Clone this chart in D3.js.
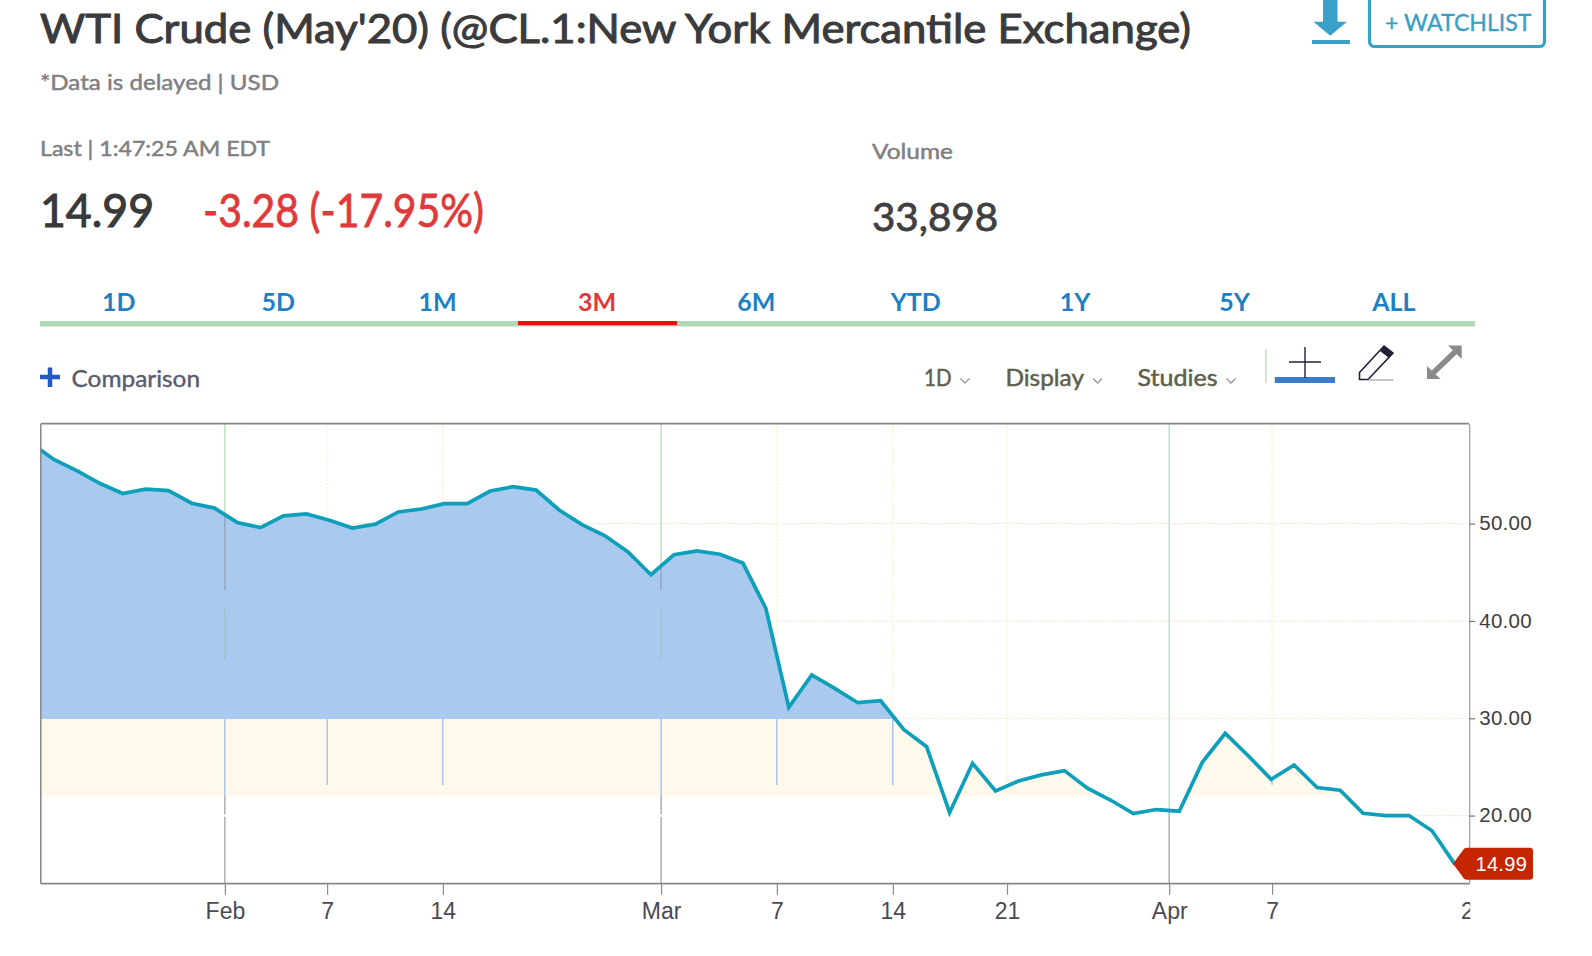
<!DOCTYPE html>
<html><head><meta charset="utf-8">
<script src="https://cdn.jsdelivr.net/npm/d3@7/dist/d3.min.js"></script>
<style>html,body{margin:0;padding:0;background:#fff;overflow:hidden}svg{display:block}</style>
</head><body><svg id="c" width="1592" height="956"></svg>
<script>
const sessions=["Jan 21","Jan 22","Jan 23","Jan 24","Jan 27","Jan 28","Jan 29","Jan 30","Jan 31","Feb 3","Feb 4","Feb 5","Feb 6","Feb 7","Feb 10","Feb 11","Feb 12","Feb 13","Feb 14","Feb 18","Feb 19","Feb 20","Feb 21","Feb 24","Feb 25","Feb 26","Feb 27","Feb 28","Mar 2","Mar 3","Mar 4","Mar 5","Mar 6","Mar 9","Mar 10","Mar 11","Mar 12","Mar 13","Mar 16","Mar 17","Mar 18","Mar 19","Mar 20","Mar 23","Mar 24","Mar 25","Mar 26","Mar 27","Mar 30","Mar 31","Apr 1","Apr 2","Apr 3","Apr 6","Apr 7","Apr 8","Apr 9","Apr 13","Apr 14","Apr 15","Apr 16","Apr 17","Apr 20"];
const prices=[58.3,56.6,55.45,54.15,53.1,53.55,53.4,52.1,51.6,50.1,49.6,50.8,51.0,50.35,49.55,49.95,51.2,51.5,52.05,52.05,53.35,53.8,53.45,51.4,49.9,48.75,47.1,44.75,46.8,47.2,46.85,45.95,41.3,31.13,34.45,33.07,31.6,31.8,28.85,27.08,20.3,25.37,22.53,23.56,24.18,24.62,22.81,21.6,20.2,20.62,20.45,25.47,28.45,26.15,23.73,25.2,22.88,22.6,20.24,20.0,20.0,18.44,14.99];
const xTickSlots=[8.45,12.9,17.94,27.44,32.48,37.53,42.5,49.56,54.04,62.8];
const xTickLabels=["Feb","7","14","Mar","7","14","21","Apr","7","21"];
const monthTickLabels=["Feb","Mar","Apr"];
const yTicks=[50,40,30,20];
const lastPrice=14.99;
const tabs=["1D","5D","1M","3M","6M","YTD","1Y","5Y","ALL"];
const activeTab="3M";
const chartTitle="WTI Crude (May'20) (@CL.1:New York Mercantile Exchange)";

const L=40.8,R=1469.2,T=423.7,B=883.7;
const x=d3.scaleLinear().domain([0,63]).range([30.8,1477.9]);
const y=d3.scaleLinear().domain([13,60.27]).range([B,T]);
const svg=d3.select("#c");
const font="Lato, 'Open Sans', sans-serif", chartFont="'Liberation Sans', Arial, sans-serif";
const defs=svg.append("defs");
defs.append("clipPath").attr("id","plot").append("rect").attr("x",L).attr("y",T).attr("width",R-L).attr("height",B-T);
const blueEnd=(y(29.95)-T)/(B-T), creamEnd=(y(22.05)-T)/(B-T);
const grad=defs.append("linearGradient").attr("id","mountain").attr("gradientUnits","userSpaceOnUse").attr("x1",0).attr("x2",0).attr("y1",T).attr("y2",B);
[[0,"#a9c9ee"],[blueEnd,"#a9c9ee"],[blueEnd,"#fff9eb"],[creamEnd,"#fff9eb"],[creamEnd,"#ffffff"],[1,"#ffffff"]]
 .forEach(s=>grad.append("stop").attr("offset",s[0]).attr("stop-color",s[1]));

function txt(s,px,py,size,weight,color,len,strokeW){
  const t=svg.append("text").attr("x",px).attr("y",py).text(s)
    .attr("font-family",font).attr("font-size",size).attr("font-weight",weight).attr("fill",color);
  if(len)t.attr("textLength",len).attr("lengthAdjust","spacingAndGlyphs");
  if(strokeW)t.attr("stroke",color).attr("stroke-width",strokeW);
  return t;
}
// Header
txt(chartTitle,40,43,40,400,"#3b3b3d",1151,1);
txt("*Data is delayed | USD",40,90,22,400,"#808084",239,0.5);
txt("Last | 1:47:25 AM EDT",40,156,22,400,"#808084",230,0.5);
txt("14.99",40,226.5,46,400,"#38393a",114,1.1);
txt("-3.28 (-17.95%)",203,226.5,46,400,"#e0393b",281,0.8);
txt("Volume",872,159,22,400,"#808084",81,0.5);
txt("33,898",872,231,38,400,"#3f4042",126,0.8);

// Tabs
const tabX=d3.scalePoint().domain(tabs).range([118.8,1393.9]);
svg.append("rect").attr("x",40).attr("y",321).attr("width",1435).attr("height",5.5).attr("fill","#afd9b4");
svg.selectAll(".tab").data(tabs).join("text").attr("class","tab")
  .attr("x",d=>tabX(d)).attr("y",310.5).attr("text-anchor","middle").text(d=>d)
  .attr("font-family",font).attr("font-size",25).attr("font-weight",700)
  .attr("fill",d=>d===activeTab?"#e0393b":"#1d7fc4");
svg.append("rect").attr("x",518).attr("y",321).attr("width",159).attr("height",4.2).attr("fill","#f30d12");

// Toolbar
svg.append("path").attr("d","M40 377H60M50 367.5V387").attr("stroke","#2458c6").attr("stroke-width",4.5).attr("fill","none");
txt("Comparison",71.5,387,23,400,"#5b5b70",128.5,0.4);
[["1D",924,27.5,965],["Display",1005.4,78.6,1097.6],["Studies",1137.6,80,1231]].forEach(m=>{
  txt(m[0],m[1],386,23,400,"#5f5f4c",m[2],0.5);
  svg.append("path").attr("d",`M${m[3]-4.5} 378.5L${m[3]} 383L${m[3]+4.5} 378.5`).attr("fill","none").attr("stroke","#9a9a9a").attr("stroke-width",1.4);
});
svg.append("line").attr("x1",1266).attr("x2",1266).attr("y1",349).attr("y2",382.7).attr("stroke","#b5d8b5").attr("stroke-width",1.2);
svg.append("rect").attr("x",1274.8).attr("y",377).attr("width",60.2).attr("height",6).attr("fill","#3d7cc9");
svg.append("path").attr("d","M1305 347V378M1289 362H1321").attr("stroke","#22223a").attr("stroke-width",1.4).attr("fill","none");
svg.append("path").attr("d","M1359.5 379.5V372.5L1384 346L1393 353L1368 379.5Z").attr("fill","#fff").attr("stroke","#1f1f3a").attr("stroke-width",1.6);
svg.append("path").attr("d","M1384 346L1393 353L1389 358L1380 351Z").attr("fill","#1f1f3a");
svg.append("line").attr("x1",1368).attr("x2",1393.5).attr("y1",380).attr("y2",380).attr("stroke","#a0a0a0").attr("stroke-width",1.2);
svg.append("path").attr("d","M1433 373L1456 351").attr("stroke","#8a8a8a").attr("stroke-width",5.5);
svg.append("path").attr("d","M1461.7 345.5V359L1448 345.5ZM1427 379V366L1440.5 379Z").attr("fill","#8a8a8a");
// Download + watchlist
svg.append("path").attr("d","M1323 0H1337.5V21.7H1347L1330.2 35.7L1313.5 21.7H1323Z").attr("fill","#3a9fc9");
svg.append("rect").attr("x",1312).attr("y",40).attr("width",38).attr("height",4).attr("fill","#3a9fc9");
svg.append("rect").attr("x",1369.5).attr("y",-10).attr("width",175).attr("height",56.5).attr("rx",5).attr("fill","#fff").attr("stroke","#3a9fc4").attr("stroke-width",3.2);
txt("+ WATCHLIST",1385,31,22.5,400,"#3a9fc4",146.5,0.35);

// Grid
const plot=svg.append("g");
plot.selectAll(".h").data(yTicks).join("line").attr("x1",L).attr("x2",R).attr("y1",d=>y(d)).attr("y2",d=>y(d))
  .attr("stroke","#f5dcc2").attr("stroke-width",1).attr("stroke-dasharray","1.5 1.5");
const tickInfo=xTickSlots.slice(0,-1).map((s,i)=>{
  const k=Math.floor(s),f=s-k;
  return {s,label:xTickLabels[i],value:prices[k]+(prices[k+1]-prices[k])*f,month:monthTickLabels.includes(xTickLabels[i])};
});
plot.selectAll(".v").data(tickInfo.filter(t=>!t.month)).join("line")
  .attr("x1",d=>x(d.s)).attr("x2",d=>x(d.s)).attr("y1",T).attr("y2",B)
  .attr("stroke","#fae6b4").attr("stroke-width",1).attr("stroke-dasharray","1.5 2");

// Mountain and line
const series=prices.map((p,i)=>({i,p,session:sessions[i]}));
plot.append("path").datum(series).attr("clip-path","url(#plot)")
  .attr("d",d3.area().x(d=>x(d.i)).y0(B).y1(d=>y(d.p))).attr("fill","url(#mountain)");

// Vertical overlay segments
function seg(sx,v0,v1,color,w){
  plot.append("line").attr("x1",x(sx)).attr("x2",x(sx)).attr("y1",y(v0)).attr("y2",y(v1)).attr("stroke",color).attr("stroke-width",w||1.2);
}
const vTop=y.domain()[1],vBot=y.domain()[0];
tickInfo.filter(t=>t.month).forEach(t=>{
  seg(t.s,vTop,t.value,"#b2d8b4");
  if(t.value>30){
    seg(t.s,t.value,43.18,"#8f9fb2");
    seg(t.s,41.3,36.0,"#9fc0c4");
    seg(t.s,29.95,22.05,"#92b6ea");
    seg(t.s,22.05,20.12,"#9a9a9a");
    seg(t.s,19.88,vBot,"#9a9a9a");
  } else {
    seg(t.s,t.value,vBot,"#9a9a9a");
  }
});
tickInfo.filter(t=>!t.month&&t.value>23.15).forEach(t=>seg(t.s,Math.min(29.95,t.value),23.15,"#92b6ea"));

plot.append("path").datum(series).attr("clip-path","url(#plot)")
  .attr("d",d3.line().x(d=>x(d.i)).y(d=>y(d.p))).attr("fill","none").attr("stroke","#0e9fbb").attr("stroke-width",3.7).attr("stroke-linejoin","miter");

// Frame
svg.append("line").attr("x1",L).attr("x2",R).attr("y1",T).attr("y2",T).attr("stroke","#87838a").attr("stroke-width",1.8);
svg.append("line").attr("x1",L).attr("x2",R).attr("y1",B).attr("y2",B).attr("stroke","#87878a").attr("stroke-width",1.8);
svg.append("line").attr("x1",L).attr("x2",L).attr("y1",T).attr("y2",B).attr("stroke","#87878a").attr("stroke-width",1.5);

// Axes
const yAxis=d3.axisRight(y).tickValues(yTicks).tickFormat(d3.format(".2f")).tickSize(6).tickSizeOuter(0).tickPadding(4);
const gy=svg.append("g").attr("transform",`translate(${R},0)`).call(yAxis);
gy.select(".domain").attr("stroke","#999").attr("stroke-width",1.2);
gy.selectAll(".tick line").attr("stroke","#777").attr("stroke-width",1.2);
gy.selectAll("text").attr("font-family",chartFont).attr("font-size",20.5).attr("letter-spacing",0.3).attr("dy","0.3em").attr("fill","#3e3e42");

const xAxis=d3.axisBottom(x).tickValues(xTickSlots).tickFormat((d,i)=>xTickLabels[i]).tickSize(11).tickPadding(8);
const gx=svg.append("g").attr("transform",`translate(0,${B})`).call(xAxis);
gx.select(".domain").remove();
gx.selectAll(".tick line").attr("stroke","#8a8a8a").attr("stroke-width",1.2);
gx.selectAll("text").attr("font-family",chartFont).attr("font-size",23).attr("fill","#4a4a55");
const lastTick=gx.selectAll(".tick").filter((d,i)=>i===xTickSlots.length-1);
lastTick.select("line").remove();
defs.append("clipPath").attr("id","lastLabel").append("rect").attr("x",-20).attr("y",0).attr("width",20+R-x(62.8)+0.5).attr("height",60);
lastTick.attr("clip-path","url(#lastLabel)");

// Last price tag
const ly=y(lastPrice)-0.5;
svg.append("path").attr("d",`M1453 ${ly}L1462.6 ${ly-13}Q1464 ${ly-16} 1467 ${ly-16}H1530Q1533 ${ly-16} 1533 ${ly-13}V${ly+13}Q1533 ${ly+16} 1530 ${ly+16}H1467Q1464 ${ly+16} 1462.6 ${ly+13}Z`).attr("fill","#c42600");
svg.append("text").attr("x",1475.5).attr("y",ly+7).text(d3.format(".2f")(lastPrice)).attr("font-family",chartFont).attr("font-size",20).attr("letter-spacing",0.3).attr("fill","#fff");
</script></body></html>
